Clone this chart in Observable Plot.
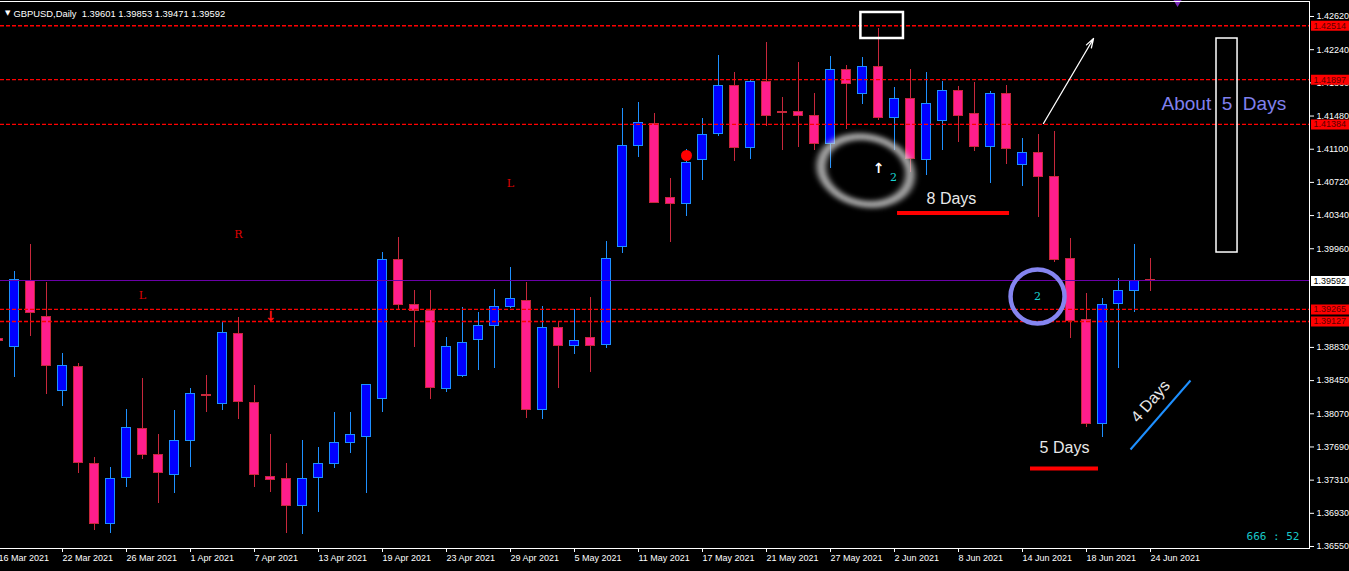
<!DOCTYPE html>
<html><head><meta charset="utf-8">
<script src="https://cdn.jsdelivr.net/npm/d3@7"></script>
<script src="https://cdn.jsdelivr.net/npm/@observablehq/plot@0.6"></script>
<style>html,body{margin:0;padding:0;background:#000;overflow:hidden}</style>
</head><body><div id="chart"></div>
<script>
// ---------- data ----------
const symbolName = "GBPUSD,Daily";
const dates = ["2021-03-16","2021-03-17","2021-03-18","2021-03-19","2021-03-22","2021-03-23","2021-03-24","2021-03-25","2021-03-26","2021-03-29","2021-03-30","2021-03-31","2021-04-01","2021-04-02","2021-04-05","2021-04-06","2021-04-07","2021-04-08","2021-04-09","2021-04-12","2021-04-13","2021-04-14","2021-04-15","2021-04-16","2021-04-19","2021-04-20","2021-04-21","2021-04-22","2021-04-23","2021-04-26","2021-04-27","2021-04-28","2021-04-29","2021-04-30","2021-05-03","2021-05-04","2021-05-05","2021-05-06","2021-05-07","2021-05-10","2021-05-11","2021-05-12","2021-05-13","2021-05-14","2021-05-17","2021-05-18","2021-05-19","2021-05-20","2021-05-21","2021-05-24","2021-05-25","2021-05-26","2021-05-27","2021-05-28","2021-05-31","2021-06-01","2021-06-02","2021-06-03","2021-06-04","2021-06-07","2021-06-08","2021-06-09","2021-06-10","2021-06-11","2021-06-14","2021-06-15","2021-06-16","2021-06-17","2021-06-18","2021-06-21","2021-06-22","2021-06-23","2021-06-24"];
const opens  = [1.38921,1.38833,1.39593,1.39181,1.38333,1.38608,1.37497,1.36810,1.37337,1.37898,1.37600,1.37371,1.37761,1.38285,1.38184,1.38986,1.38196,1.37348,1.37325,1.37016,1.37337,1.37493,1.37738,1.37806,1.38242,1.39834,1.39318,1.39249,1.38356,1.38505,1.38917,1.39078,1.39295,1.39364,1.38116,1.39055,1.38849,1.38940,1.38860,1.39982,1.41139,1.41391,1.40544,1.40475,1.40979,1.41277,1.41826,1.41116,1.41872,1.41521,1.41529,1.41483,1.41157,1.42010,1.41730,1.42044,1.41460,1.41677,1.40977,1.41425,1.41769,1.41506,1.41128,1.41735,1.40922,1.41059,1.40784,1.39845,1.39140,1.37955,1.39330,1.39478,1.39601];
const highs  = [1.38966,1.39700,1.40005,1.39574,1.38760,1.38642,1.37566,1.37458,1.38119,1.38471,1.37833,1.38108,1.38363,1.38512,1.39119,1.39176,1.38394,1.37829,1.37504,1.37764,1.37680,1.38081,1.38081,1.38405,1.39914,1.40086,1.39482,1.39482,1.38947,1.39284,1.39227,1.39497,1.39745,1.39570,1.39299,1.39119,1.39261,1.39398,1.40047,1.41570,1.41639,1.41513,1.40761,1.41093,1.41448,1.42173,1.41979,1.41895,1.42319,1.41696,1.42090,1.41742,1.42162,1.42055,1.42154,1.42479,1.41803,1.42010,1.41982,1.41881,1.41818,1.41864,1.41761,1.41826,1.41223,1.41274,1.41306,1.40081,1.39444,1.39387,1.39623,1.40005,1.39853];
const lows   = [1.38852,1.38489,1.38958,1.38291,1.38157,1.37389,1.36733,1.36695,1.37229,1.37543,1.37046,1.37154,1.37451,1.38088,1.38108,1.38004,1.37229,1.37172,1.36695,1.36684,1.36936,1.37440,1.37612,1.37154,1.38081,1.39261,1.38833,1.38230,1.38310,1.38485,1.38571,1.38592,1.39272,1.38012,1.38001,1.38363,1.38745,1.38546,1.38814,1.39902,1.41009,1.40475,1.40028,1.40333,1.40742,1.41246,1.40959,1.40986,1.41360,1.41085,1.41116,1.41085,1.40883,1.41322,1.41609,1.41429,1.41085,1.40833,1.40799,1.41085,1.41180,1.41077,1.40711,1.40928,1.40676,1.40318,1.39806,1.38929,1.37909,1.37802,1.38585,1.39227,1.39471];
const closes = [1.38898,1.39604,1.39227,1.38620,1.38620,1.37509,1.36810,1.37325,1.37909,1.37600,1.37394,1.37761,1.38291,1.38279,1.38997,1.38207,1.37371,1.37314,1.37016,1.37325,1.37497,1.37738,1.37829,1.38402,1.39834,1.39318,1.39249,1.38368,1.38837,1.38883,1.39078,1.39295,1.39387,1.38116,1.39055,1.38849,1.38906,1.38849,1.39845,1.41139,1.41403,1.40486,1.40475,1.40944,1.41265,1.41826,1.41116,1.41872,1.41483,1.41515,1.41483,1.41157,1.42010,1.41849,1.42044,1.41460,1.41677,1.40990,1.41620,1.41769,1.41480,1.41128,1.41735,1.41105,1.41059,1.40784,1.39834,1.39127,1.37955,1.39318,1.39478,1.39593,1.39592];

const xTickDates = ["2021-03-16","2021-03-22","2021-03-26","2021-04-01","2021-04-07","2021-04-13","2021-04-19","2021-04-23","2021-04-29","2021-05-05","2021-05-11","2021-05-17","2021-05-21","2021-05-27","2021-06-02","2021-06-08","2021-06-14","2021-06-18","2021-06-24"];
const yTicks = [1.42620,1.42240,1.41860,1.41480,1.41100,1.40720,1.40340,1.39960,1.38830,1.38450,1.38070,1.37690,1.37310,1.36930,1.36550];
const levelPrices = [1.42514,1.41897,1.41384,1.39265,1.39127];
const currentPrice = 1.39592;
const priceDomain = [1.365271, 1.427918];
const barDomain = [0.125, 81.9375];

// annotations: bar position (index) and price
const signalLetters = [{i:9, p:1.39425, t:"L"}, {i:32, p:1.40707, t:"L"}, {i:15, p:1.40123, t:"R"}];
const downArrows = [{i:17, p:1.39184}];
const upArrows = [{i:55, p:1.40879}];
const redDots = [{i:43, p:1.41028}];
const countLabels = [{i:55.94, p:1.40776, t:"2"}, {i:64.94, p:1.39413, t:"2"}];
const highlightBox = [{i1:53.9, i2:56.56, p1:1.42368, p2:1.42666}];
const tallBox = [{i1:76.125, i2:77.44, p1:1.39917, p2:1.42368}];
const arrowLine = [{i1:65.31, p1:1.41395, i2:68.44, p2:1.42368}];
const blueLine = [{i1:70.75, p1:1.37661, i2:74.5, p2:1.38451}];
const redBars = [{i1:56.19, i2:63.19, p:1.40370}, {i1:64.5, i2:68.75, p:1.37443}];
const dayLabels = [{i:59.56, p:1.40536, t:"8 Days"}, {i:66.625, p:1.37684, t:"5 Days"}];
const rotatedLabel = [{i:72, p:1.38211, t:"4 Days"}];
const aboutLabel = [{i:72.69, p:1.41624, t:"About\u00a0\u00a05\u00a0\u00a0Days"}];
const circleMark = [{i:64.94, p:1.39413}];
const blob = [{i:54.2, p:1.40856}];
const topMarker = [{i:73.69, p:1.42790}];
const timerText = "666 : 52";

// ---------- build ----------
const fmt5 = d3.format(".5f");
const fmtDate = d3.utcFormat("%-d %b %Y");
const bars = dates.map((d, i) => ({i, date: d, open: opens[i], high: highs[i], low: lows[i], close: closes[i]}));
const up = bars.filter(d => d.close > d.open);
const down = bars.filter(d => d.close <= d.open);
const xTicks = xTickDates.map(d => dates.indexOf(d));
const last = bars[bars.length - 1];
const header = `${symbolName}\u00a0\u00a0${fmt5(last.open)} ${fmt5(last.high)} ${fmt5(last.low)} ${fmt5(last.close)}`;

const UPW = "#1e90ff", UPF = "#0000ff", DNW = "#c8283c", DNF = "#ff1e8c";
const sans = "Liberation Sans, Arial, sans-serif";
const crisp = "crispEdges";

const chart = Plot.plot({
  width: 1349, height: 571,
  marginTop: 1, marginBottom: 23, marginLeft: 0, marginRight: 40,
  style: {background: "#000", color: "#fff", fontFamily: sans, fontSize: "9px"},
  x: {domain: barDomain, axis: null},
  y: {domain: priceDomain, axis: null},
  marks: [
    // candles
    Plot.ruleX(up, {x: "i", y1: "low", y2: "high", stroke: UPW, shapeRendering: crisp}),
    Plot.ruleX(down, {x: "i", y1: "low", y2: "high", stroke: DNW, shapeRendering: crisp}),
    Plot.rect(up, {x1: d => d.i - 0.5, x2: d => d.i + 0.5, insetLeft: 3.5, insetRight: 3.5, y1: "open", y2: "close", fill: UPF, stroke: UPW, shapeRendering: crisp}),
    Plot.rect(down, {x1: d => d.i - 0.5, x2: d => d.i + 0.5, insetLeft: 3.5, insetRight: 3.5, y1: "open", y2: "close", fill: DNF, stroke: DNW, shapeRendering: crisp}),
    // horizontal levels
    Plot.ruleY(levelPrices, {y: d => d, stroke: "#ff0000", strokeWidth: 1.3, strokeDasharray: "4,2"}),
    Plot.ruleY([currentPrice], {y: d => d, stroke: "#6a00a8", shapeRendering: crisp}),
    // blob (ellipse, post-processed)
    Plot.dot(blob, {x: "i", y: "p", r: 36, stroke: "#d2d2d2", strokeWidth: 7, strokeOpacity: 0.85}),
    // signals
    Plot.text(signalLetters, {x: "i", y: "p", text: "t", fill: "#e00000", fontSize: 11, fontFamily: "DejaVu Serif, serif"}),
    Plot.text(downArrows, {x: "i", y: "p", text: () => "\u2193", fill: "#ff1010", fontSize: 14, fontWeight: "bold", fontFamily: "DejaVu Sans"}),
    Plot.text(upArrows, {x: "i", y: "p", text: () => "\u2191", fill: "#ffffff", fontSize: 14, fontWeight: "bold", fontFamily: "DejaVu Sans"}),
    Plot.dot(redDots, {x: "i", y: "p", r: 5.5, fill: "#ff0000"}),
    Plot.text(countLabels, {x: "i", y: "p", text: "t", fill: "#19d3d3", fontSize: 11, fontFamily: "DejaVu Serif, serif"}),
    // drawings
    Plot.rect(highlightBox, {x1: "i1", x2: "i2", y1: "p1", y2: "p2", fill: "none", stroke: "#ffffff", strokeWidth: 2.5}),
    Plot.rect(tallBox, {x1: "i1", x2: "i2", y1: "p1", y2: "p2", fill: "none", stroke: "#ffffff", strokeWidth: 1.5}),
    Plot.arrow(arrowLine, {x1: "i1", y1: "p1", x2: "i2", y2: "p2", stroke: "#ffffff", strokeWidth: 1.3, headLength: 11, headAngle: 35}),
    Plot.link(blueLine, {x1: "i1", y1: "p1", x2: "i2", y2: "p2", stroke: "#1e90ff", strokeWidth: 2}),
    Plot.ruleY(redBars, {y: "p", x1: "i1", x2: "i2", stroke: "#ff0000", strokeWidth: 4}),
    Plot.text(dayLabels, {x: "i", y: "p", text: "t", fill: "#e8e8e8", fontSize: 16, fontFamily: sans}),
    Plot.text(rotatedLabel, {x: "i", y: "p", text: "t", fill: "#e8e8e8", fontSize: 16, fontFamily: sans, rotate: -49}),
    Plot.text(aboutLabel, {x: "i", y: "p", text: "t", fill: "#8080ee", fontSize: 19, fontFamily: sans, textAnchor: "start"}),
    Plot.dot(circleMark, {x: "i", y: "p", r: 27, stroke: "#8585f0", strokeWidth: 4.5}),
    Plot.dot(topMarker, {x: "i", y: "p", r: 3.5, symbol: "triangle", rotate: 180, fill: "#7a2ab8"}),
    // frame and axes
    Plot.frame({anchor: "top", stroke: "#fff", shapeRendering: crisp}),
    Plot.frame({anchor: "right", stroke: "#fff", shapeRendering: crisp}),
    Plot.frame({anchor: "bottom", stroke: "#fff", shapeRendering: crisp}),
    Plot.axisX(xTicks, {tickFormat: i => fmtDate(d3.isoParse(dates[i])), tickSize: 4, tickPadding: 2, textAnchor: "start", fontSize: 9, label: null}),
    Plot.axisY(yTicks, {anchor: "right", tickFormat: fmt5, tickSize: 4, tickPadding: 3, fontSize: 9, label: null}),
    // price tags on the scale
    Plot.ruleY(levelPrices, {y: d => d, stroke: "#ff0000", strokeWidth: 10, insetLeft: 1271, dx: 40}),
    Plot.ruleY([currentPrice], {y: d => d, stroke: "#ffffff", strokeWidth: 10, insetLeft: 1271, dx: 40}),
    Plot.text(levelPrices, {y: d => d, text: fmt5, frameAnchor: "right", dx: 4, textAnchor: "start", fill: "#5a0000", fontSize: 9}),
    Plot.text([currentPrice], {y: d => d, text: fmt5, frameAnchor: "right", dx: 4, textAnchor: "start", fill: "#000", fontSize: 9}),
    // header and timer
    Plot.text(["\u25BC"], {frameAnchor: "top-left", dx: 4.5, dy: 9, fontSize: 7, fill: "#fff", fontFamily: "DejaVu Sans"}),
    Plot.text([header], {frameAnchor: "top-left", dx: 13, dy: 8.5, textAnchor: "start", fontSize: 9.4, fill: "#fff"}),
    Plot.text([timerText], {frameAnchor: "bottom-right", dx: -10, dy: -9, textAnchor: "end", fontSize: 11, fill: "#19c8c8", fontFamily: "DejaVu Sans Mono, monospace"})
  ]
});

document.getElementById("chart").appendChild(chart);

// soft ellipse for the blob
const svg = d3.select(chart);
const defs = svg.insert("defs", ":first-child");
defs.append("filter").attr("id", "blurF").attr("x", "-50%").attr("y", "-50%").attr("width", "200%").attr("height", "200%")
  .append("feGaussianBlur").attr("stdDeviation", 2.6);
svg.selectAll("circle").each(function() {
  const r = +(this.getAttribute("r") || this.parentNode.getAttribute("r"));
  if (r !== 36) return;
  const b = this.getBBox();
  const cx = b.x + b.width / 2, cy = b.y + b.height / 2;
  const prev = this.getAttribute("transform") || "";
  this.setAttribute("transform", `${prev} translate(${cx},${cy}) rotate(12) scale(1.25,0.93) translate(${-cx},${-cy})`);
  this.setAttribute("filter", "url(#blurF)");
});
</script>
</body></html>
